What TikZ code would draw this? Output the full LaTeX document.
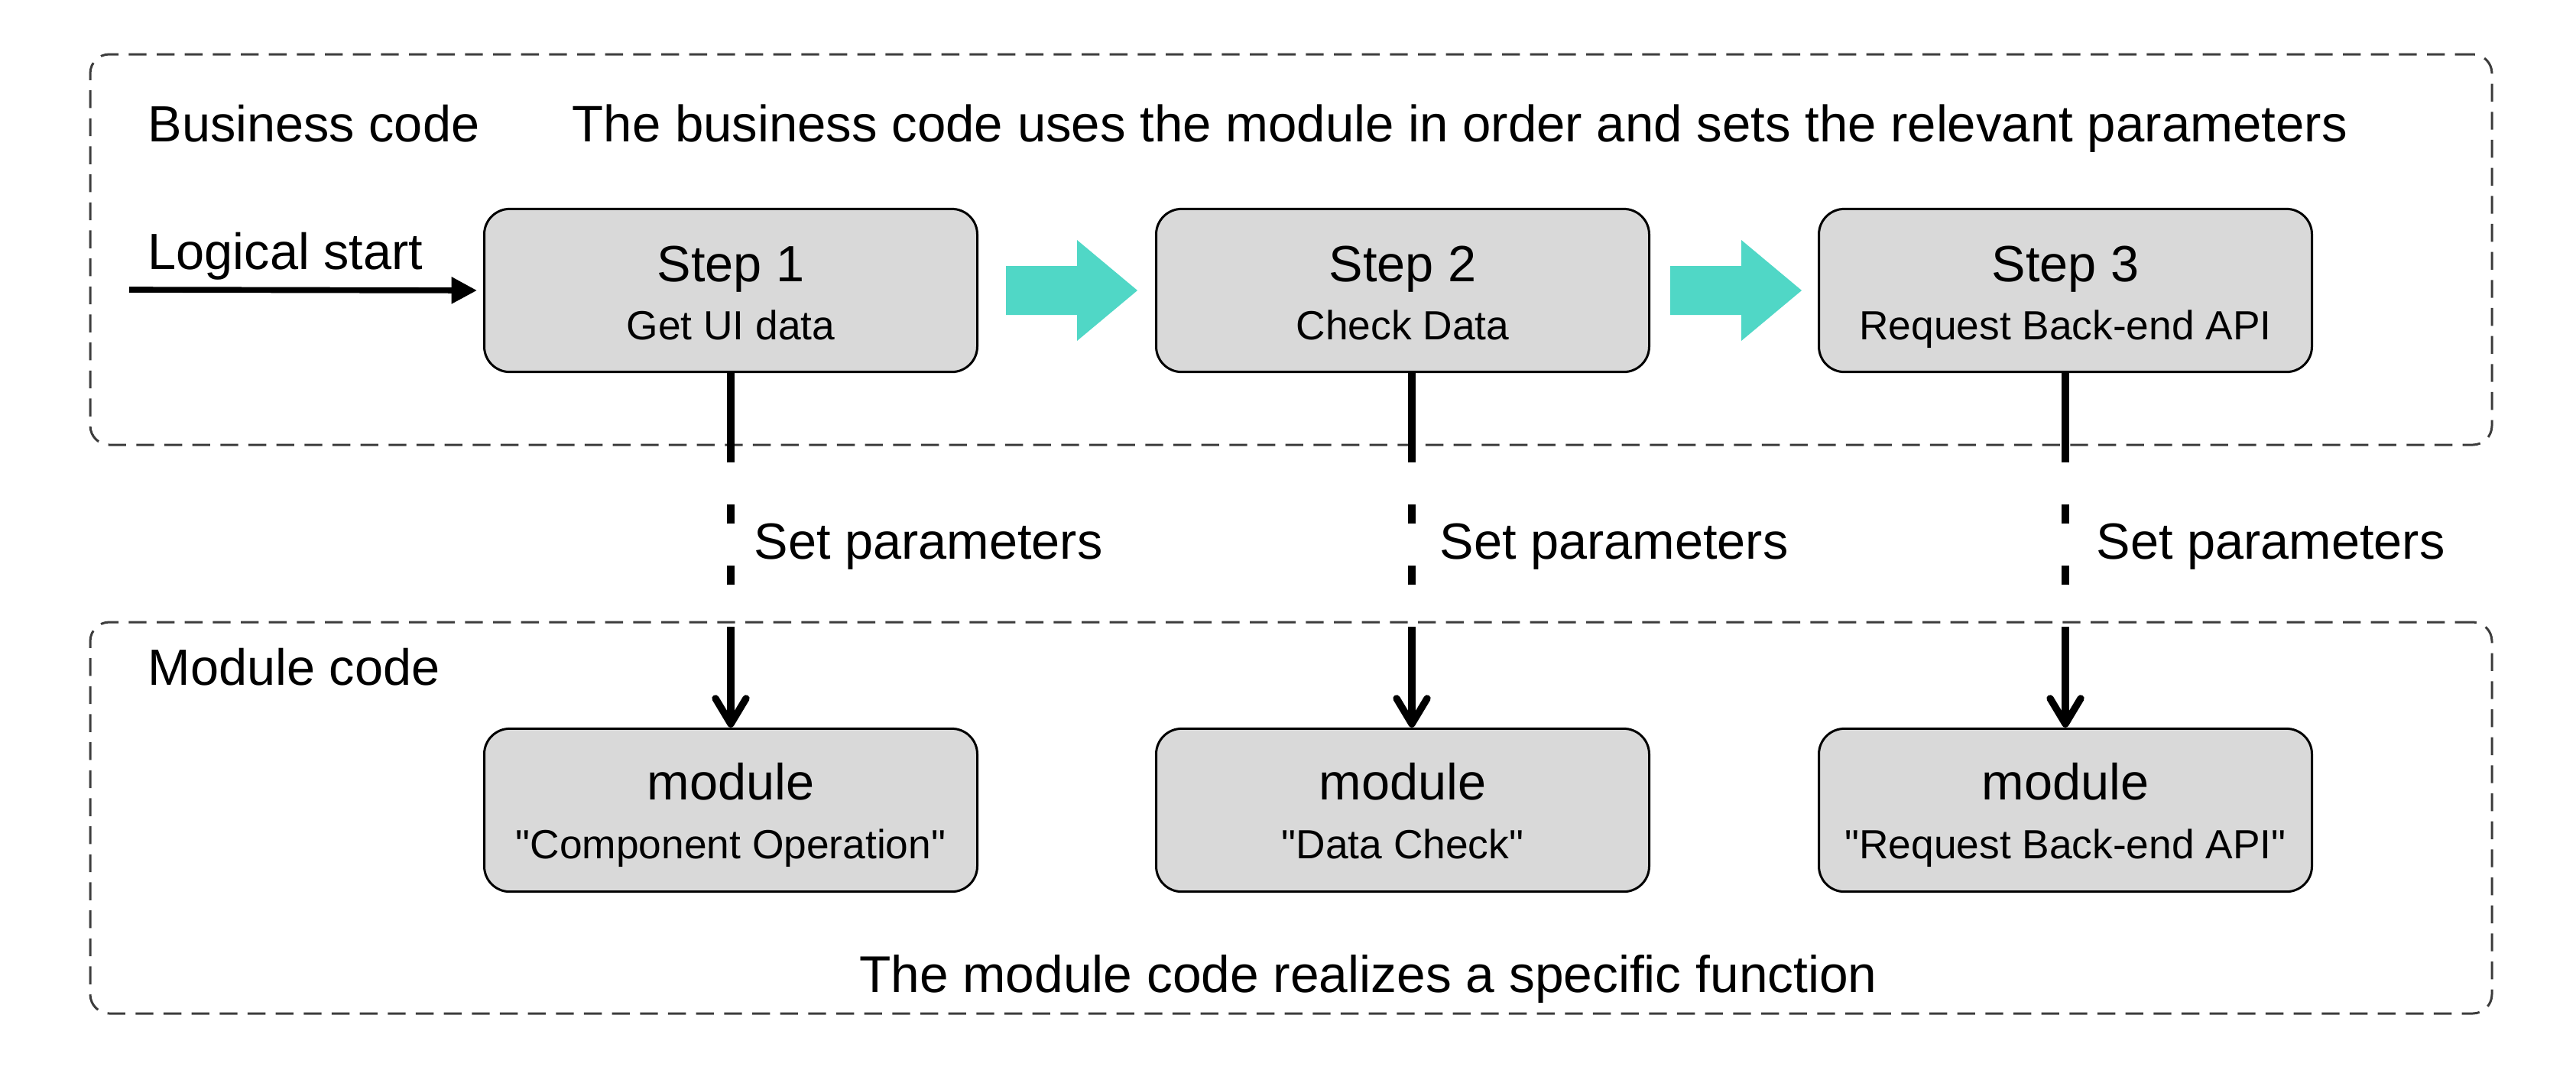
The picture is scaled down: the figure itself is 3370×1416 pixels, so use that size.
\documentclass[tikz,border=0pt]{standalone}
\usepackage{fontspec}
\setmainfont{Liberation Sans}
\usetikzlibrary{arrows.meta,calc}
\definecolor{boxgray}{RGB}{217,217,217}
\definecolor{tealc}{RGB}{80,215,198}
\definecolor{dashc}{RGB}{60,60,60}
\newcommand\straightquote{\XeTeXglyph\XeTeXcharglyph"22\relax}
\begin{document}
\begin{tikzpicture}[x=0.3pt,y=-0.3pt,
  big/.style={font=\fontsize{20}{24}\selectfont, inner sep=0pt},
  small/.style={font=\fontsize{16}{19}\selectfont, inner sep=0pt},
  stepbox/.style={draw=black, line width=0.9pt, fill=boxgray, rounded corners=10pt,
    minimum width=193.5pt, minimum height=64pt, inner sep=0pt},
  region/.style={draw=dashc, line width=0.9pt, dash pattern=on 7pt off 4pt,
    rounded corners=7.5pt, minimum width=942.6pt, inner sep=0pt},
  flowarrow/.style={fill=tealc},
  param/.style={line width=2.8pt,
    dash pattern=on 35.1pt off 16.5pt on 7.5pt off 16.5pt on 7.5pt off 16.5pt on 80pt,
    -{Straight Barb[length=10pt,width=12pt,round]}},
  startarrow/.style={line width=2.3pt, shorten >=2.4pt, -{Triangle[length=10pt,width=10pt]}},
]
\useasboundingbox (0,0) rectangle (3370,1416);

% regions
\node[region, minimum height=153.3pt] (biz) at (1689,326.5) {};
\node[region, minimum height=153.6pt] (mod) at (1689,1070) {};

% top labels
\node[big, anchor=base west] (bizlbl) at (193,185) {Business code};
\node[big, anchor=base west, font=\fontsize{20.15}{24}\selectfont] (biztxt) at (748,185) {The business code uses the module in order and sets the relevant parameters};
\node[big, anchor=base west] (startlbl) at (193,352) {Logical start};
\coordinate (start) at (169,379);

% step boxes
\node[stepbox] (s1) at (956,380) {};
\node[big, anchor=base] (s1a) at (956,368) {Step 1};
\node[small, anchor=base] (s1b) at (956,444) {Get UI data};

\node[stepbox] (s2) at (1835,380) {};
\node[big, anchor=base] (s2a) at (1835,368) {Step 2};
\node[small, anchor=base] (s2b) at (1835,444) {Check Data};

\node[stepbox] (s3) at (2702,380) {};
\node[big, anchor=base] (s3a) at (2702,368) {Step 3};
\node[small, anchor=base] (s3b) at (2702,444) {Request Back-end API};

% module boxes
\node[stepbox] (m1) at (956,1060) {};
\node[big, anchor=base] (m1a) at (956,1046) {module};
\node[small, anchor=base] (m1b) at (956,1123) {\straightquote Component Operation\straightquote};

\node[stepbox] (m2) at (1835,1060) {};
\node[big, anchor=base] (m2a) at (1835,1046) {module};
\node[small, anchor=base] (m2b) at (1835,1123) {\straightquote Data Check\straightquote};

\node[stepbox] (m3) at (2702,1060) {};
\node[big, anchor=base] (m3a) at (2702,1046) {module};
\node[small, anchor=base] (m3b) at (2702,1123) {\straightquote Request Back-end API\straightquote};

% bottom labels
\node[big, anchor=base west] (modlbl) at (193,896) {Module code};
\node[big, anchor=base, font=\fontsize{20.3}{24}\selectfont] (modtxt) at (1790,1298) {The module code realizes a specific function};

% set parameters labels
\node[big, anchor=base west] (p1) at (986,731) {Set parameters};
\node[big, anchor=base west] (p2) at (1883,731) {Set parameters};
\node[big, anchor=base west] (p3) at (2742,731) {Set parameters};

% connectors
\draw[startarrow] (start) -- (s1.west);
\draw[param] (s1.south) -- (m1.north);
\draw[param] ([xshift=3.6pt]s2.south) -- ([xshift=3.6pt]m2.north);
\draw[param] (s3.south) -- (m3.north);

% teal flow arrows
\fill[flowarrow] ($(s1.east)+(36,-32)$) -- ++(93,0) -- ++(0,-34) -- ++(79,66)
  -- ++(-79,66) -- ++(0,-34) -- ++(-93,0) -- cycle;
\fill[flowarrow] ($(s2.east)+(26,-32)$) -- ++(93,0) -- ++(0,-34) -- ++(79,66)
  -- ++(-79,66) -- ++(0,-34) -- ++(-93,0) -- cycle;
\end{tikzpicture}
\end{document}
